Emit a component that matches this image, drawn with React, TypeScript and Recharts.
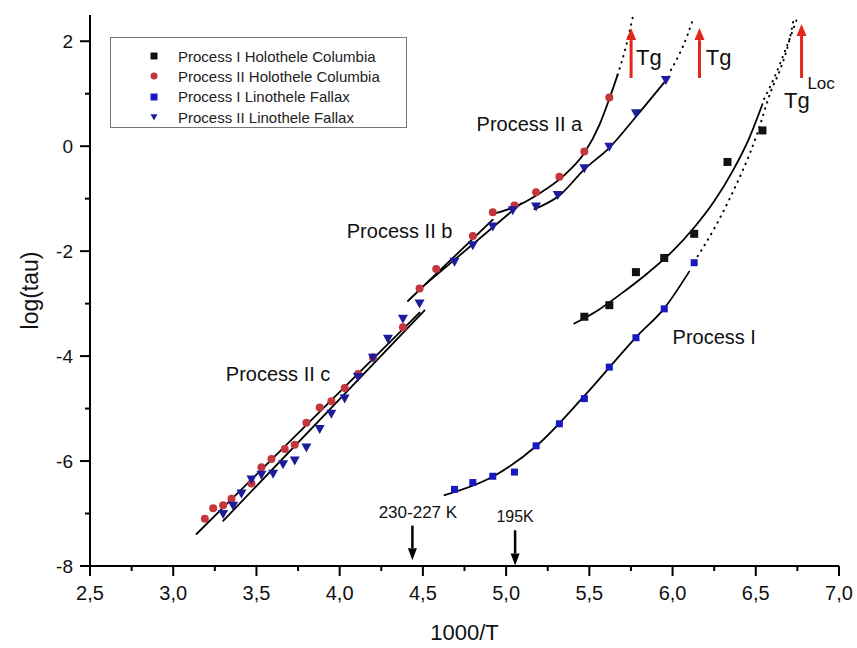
import React from 'react';
import {
    ComposedChart,
    Line,
    Scatter,
    XAxis,
    YAxis,
    ReferenceLine,
    ReferenceDot,
    Legend
} from 'recharts';

// axis ticks
const xTicks = [2.5, 2.75, 3, 3.25, 3.5, 3.75, 4, 4.25, 4.5, 4.75, 5, 5.25, 5.5, 5.75, 6, 6.25, 6.5, 6.75, 7];
const xMajorTicks = [2.5, 3, 3.5, 4, 4.5, 5, 5.5, 6, 6.5, 7];
const yTicks = [-8, -7, -6, -5, -4, -3, -2, -1, 0, 1, 2];
const yMajorTicks = [-8, -6, -4, -2, 0, 2];

// measured points [1000/T, log(tau)]
const procIHolothele: [number, number][] = [
    [5.47, -3.25], [5.62, -3.03], [5.78, -2.40], [5.95, -2.13], [6.13, -1.67], [6.33, -0.30], [6.54, 0.30]
];
const procIIHolothele: [number, number][] = [
    [3.19, -7.10], [3.24, -6.90], [3.30, -6.84], [3.35, -6.72], [3.47, -6.43], [3.53, -6.12], [3.59, -5.96],
    [3.67, -5.77], [3.73, -5.69], [3.80, -5.27], [3.88, -4.98], [3.95, -4.86], [4.03, -4.61], [4.11, -4.34],
    [4.20, -4.02], [4.38, -3.45], [4.48, -2.71], [4.58, -2.34], [4.80, -1.71], [4.92, -1.26], [5.05, -1.13],
    [5.18, -0.88], [5.32, -0.58], [5.47, -0.10], [5.62, 0.93]
];
const procILinothele: [number, number][] = [
    [4.69, -6.54], [4.80, -6.41], [4.92, -6.29], [5.05, -6.21], [5.18, -5.71], [5.32, -5.29], [5.47, -4.81],
    [5.62, -4.21], [5.78, -3.65], [5.95, -3.10], [6.13, -2.22]
];
const procIILinothele: [number, number][] = [
    [3.30, -7.01], [3.36, -6.85], [3.41, -6.62], [3.47, -6.35], [3.53, -6.26], [3.60, -6.24], [3.66, -6.06],
    [3.73, -5.99], [3.80, -5.74], [3.88, -5.39], [3.95, -5.10], [4.03, -4.81], [4.11, -4.40], [4.20, -4.03],
    [4.29, -3.67], [4.38, -3.29], [4.48, -3.00], [4.69, -2.20], [4.80, -1.89], [4.92, -1.53], [5.04, -1.22],
    [5.18, -1.15], [5.31, -0.93], [5.47, -0.42], [5.62, -0.01], [5.78, 0.63], [5.96, 1.26]
];

// fitted curves
const fitIIcRed: [number, number][] = [[3.14, -7.39], [4.48, -3.17]];
const fitIIcBlue: [number, number][] = [[3.30, -7.14], [4.51, -3.13]];
const fitIIbRed: [number, number][] = [[4.41, -2.95], [4.92, -1.40]];
const fitIIbBlue: [number, number][] = [[4.52, -2.62], [5.09, -1.09]];
const fitIIaRed: [number, number][] = [
    [4.91, -1.30], [5.05, -1.16], [5.20, -0.90], [5.35, -0.55], [5.47, -0.13], [5.56, 0.40], [5.62, 0.90], [5.67, 1.36]
];
const fitIIaBlue: [number, number][] = [
    [5.17, -1.20], [5.32, -0.94], [5.47, -0.44], [5.62, -0.03], [5.79, 0.60], [5.98, 1.33]
];
const fitIBlack: [number, number][] = [
    [5.41, -3.38], [5.55, -3.13], [5.70, -2.79], [5.85, -2.42], [6.00, -2.00], [6.13, -1.55], [6.25, -1.05],
    [6.36, -0.48], [6.46, 0.15], [6.54, 0.80]
];
const fitIBlue: [number, number][] = [
    [4.63, -6.65], [4.93, -6.28], [5.19, -5.69], [5.47, -4.76], [5.79, -3.61], [5.95, -3.09], [6.10, -2.39]
];
// dotted extrapolations towards Tg
const dotIIaRed: [number, number][] = [[5.67, 1.36], [5.72, 1.90], [5.76, 2.45]];
const dotIIaBlue: [number, number][] = [[5.99, 1.45], [6.04, 1.75], [6.09, 2.12], [6.12, 2.40]];
const dotIBlack: [number, number][] = [[6.55, 0.90], [6.61, 1.30], [6.68, 1.85], [6.75, 2.45]];
const dotIBlue: [number, number][] = [
    [6.13, -2.20], [6.18, -1.95], [6.34, -1.02], [6.51, 0.25], [6.59, 1.04], [6.65, 1.49], [6.70, 2.00], [6.73, 2.45]
];

const seriesNames = [
    'Process I Holothele Columbia',
    'Process II Holothele Columbia',
    'Process I Linothele Fallax',
    'Process II Linothele Fallax'
];
const seriesColors = ['#111111', '#c4363c', '#1818c0', '#1c1c9c'];
const seriesShapes = ['square', 'circle', 'square', 'triangle'];

// text annotations
const annotations = [
    { text: 'Process II a', x: 5.14, y: 0.29, anchor: 'middle', size: 20 },
    { text: 'Process II b', x: 4.36, y: -1.75, anchor: 'middle', size: 20 },
    { text: 'Process II c', x: 3.63, y: -4.48, anchor: 'middle', size: 20 },
    { text: 'Process I', x: 6.0, y: -3.77, anchor: 'start', size: 20 },
    { text: 'Tg', x: 5.78, y: 1.55, anchor: 'start', size: 22 },
    { text: 'Tg', x: 6.2, y: 1.55, anchor: 'start', size: 22 },
    { text: 'Tg', x: 6.67, y: 0.72, anchor: 'start', size: 22 },
    { text: 'Loc', x: 6.81, y: 1.09, anchor: 'start', size: 17 },
    { text: '230-227 K', x: 4.47, y: -7.09, anchor: 'middle', size: 17 },
    { text: '195K', x: 5.054, y: -7.17, anchor: 'middle', size: 16 }
];

// arrows [x, yFrom, yTo] with tip at yTo
const tgArrows: [number, number, number][] = [[5.751, 1.30, 2.25], [6.162, 1.30, 2.25], [6.775, 1.30, 2.33]];
const tempArrows: [number, number, number][] = [[4.437, -7.23, -7.89], [5.054, -7.32, -7.99]];

const toPts = (arr: [number, number][]) => arr.map(([x, y]) => ({ x, y }));

const FONT = '"Liberation Sans", Arial, sans-serif';
const fmtX = (v: number) => v.toFixed(1).replace('.', ',');

const BottomTick = (props: any) => {
    const { x, y, payload } = props;
    const major = xMajorTicks.includes(payload.value);
    return (
        <g>
            <line x1={x} y1={y} x2={x} y2={y + (major ? 10 : 5)} stroke="#000" strokeWidth={2} />
            {major && (
                <text x={x} y={y + 34} textAnchor="middle" fontSize={20} fontFamily={FONT} fill="#111">
                    {fmtX(payload.value)}
                </text>
            )}
        </g>
    );
};

const TopTick = (props: any) => {
    const { x, y, payload } = props;
    const major = xMajorTicks.includes(payload.value);
    return <line x1={x} y1={y} x2={x} y2={y + (major ? 10 : 5)} stroke="#000" strokeWidth={2} />;
};

const LeftTick = (props: any) => {
    const { x, y, payload } = props;
    const major = yMajorTicks.includes(payload.value);
    return (
        <g>
            <line x1={x - (major ? 10 : 5)} y1={y} x2={x} y2={y} stroke="#000" strokeWidth={2} />
            {major && (
                <text x={x - 17} y={y} dy="0.35em" textAnchor="end" fontSize={19} fontFamily={FONT} fill="#111">
                    {String(payload.value)}
                </text>
            )}
        </g>
    );
};

const RightTick = (props: any) => {
    const { x, y, payload } = props;
    const major = yMajorTicks.includes(payload.value);
    return <line x1={x - (major ? 10 : 5)} y1={y} x2={x} y2={y} stroke="#000" strokeWidth={2} />;
};

const Marker = ({ kind, color, cx, cy, s }: { kind: string; color: string; cx: number; cy: number; s: number }) => {
    if (kind === 'circle') return <circle cx={cx} cy={cy} r={s / 2} fill={color} />;
    if (kind === 'triangle')
        return (
            <polygon
                points={`${cx - s / 2},${cy - s * 0.4} ${cx + s / 2},${cy - s * 0.4} ${cx},${cy + s * 0.5}`}
                fill={color}
            />
        );
    return <rect x={cx - s / 2} y={cy - s / 2} width={s} height={s} fill={color} />;
};

const shapeFor = (i: number, s: number) => (p: any) => (
    <Marker kind={seriesShapes[i]} color={seriesColors[i]} cx={p.cx} cy={p.cy} s={s} />
);

const arrowShape = (color: string, w: number, headLen: number, headW: number) => (p: any) => {
    const { x1, y1, x2, y2 } = p;
    const dir = y2 < y1 ? -1 : 1;
    const base = y2 - dir * headLen;
    return (
        <g>
            <line x1={x1} y1={y1} x2={x2} y2={base} stroke={color} strokeWidth={w} />
            <polygon points={`${x2},${y2} ${x2 - headW / 2},${base} ${x2 + headW / 2},${base}`} fill={color} />
        </g>
    );
};

const renderLegend = () => (
    <div
        style={{
            width: 297,
            height: 91,
            boxSizing: 'border-box',
            border: '1px solid #777',
            background: '#fff',
            paddingTop: 8,
            fontFamily: FONT,
            fontSize: 15,
            color: '#222'
        }}
    >
        {seriesNames.map((name, i) => (
            <div key={name} style={{ display: 'flex', alignItems: 'center', height: 20.3 }}>
                <svg width={14} height={14} style={{ marginLeft: 36, marginRight: 17 }}>
                    <Marker kind={seriesShapes[i]} color={seriesColors[i]} cx={7} cy={7} s={7} />
                </svg>
                <span style={{ whiteSpace: 'nowrap' }}>{name}</span>
            </div>
        ))}
    </div>
);

const fitLine = (pts: [number, number][], key: string, dotted = false) => (
    <Line
        key={key}
        data={toPts(pts)}
        dataKey="y"
        type="monotone"
        stroke="#000"
        strokeWidth={dotted ? 2 : 1.8}
        strokeDasharray={dotted ? '0.5 6' : undefined}
        strokeLinecap="round"
        dot={false}
        activeDot={false}
        legendType="none"
        isAnimationActive={false}
    />
);

export default function App() {
    return (
        <div style={{ position: 'absolute', left: 0, top: 0, background: '#fff' }}>
            <ComposedChart width={857} height={648} margin={{ top: 15, right: 18, bottom: 0, left: 0 }}>
                <XAxis
                    dataKey="x"
                    type="number"
                    domain={[2.5, 7]}
                    allowDataOverflow
                    ticks={xTicks}
                    interval={0}
                    height={82}
                    tickSize={0}
                    tickMargin={0}
                    tickLine={false}
                    tick={<BottomTick />}
                    axisLine={{ stroke: '#000', strokeWidth: 2 }}
                />
                <XAxis
                    xAxisId="top"
                    orientation="top"
                    dataKey="x"
                    type="number"
                    domain={[2.5, 7]}
                    allowDataOverflow
                    ticks={xTicks}
                    interval={0}
                    height={0}
                    tickSize={0}
                    tickMargin={0}
                    tickLine={false}
                    tick={<TopTick />}
                    axisLine={{ stroke: '#000', strokeWidth: 2 }}
                />
                <YAxis
                    dataKey="y"
                    type="number"
                    domain={[-8, 2.5]}
                    allowDataOverflow
                    ticks={yTicks}
                    interval={0}
                    width={90}
                    tickSize={0}
                    tickMargin={0}
                    tickLine={false}
                    tick={<LeftTick />}
                    axisLine={{ stroke: '#000', strokeWidth: 2 }}
                    label={{
                        value: 'log(tau)',
                        angle: -90,
                        position: 'insideLeft',
                        offset: 30,
                        style: { fontSize: 23, fontFamily: FONT, fill: '#111', textAnchor: 'middle' }
                    }}
                />
                <YAxis
                    yAxisId="right"
                    orientation="right"
                    dataKey="y"
                    type="number"
                    domain={[-8, 2.5]}
                    allowDataOverflow
                    ticks={yTicks}
                    interval={0}
                    width={0}
                    tickSize={0}
                    tickMargin={0}
                    tickLine={false}
                    tick={<RightTick />}
                    axisLine={{ stroke: '#000', strokeWidth: 2 }}
                />

                {fitLine(fitIIcRed, 'IIcR')}
                {fitLine(fitIIcBlue, 'IIcB')}
                {fitLine(fitIIbRed, 'IIbR')}
                {fitLine(fitIIbBlue, 'IIbB')}
                {fitLine(fitIIaRed, 'IIaR')}
                {fitLine(fitIIaBlue, 'IIaB')}
                {fitLine(fitIBlack, 'IK')}
                {fitLine(fitIBlue, 'IB')}
                {fitLine(dotIIaRed, 'dIIaR', true)}
                {fitLine(dotIIaBlue, 'dIIaB', true)}
                {fitLine(dotIBlack, 'dIK', true)}
                {fitLine(dotIBlue, 'dIB', true)}

                <Scatter name={seriesNames[0]} data={toPts(procIHolothele)} shape={shapeFor(0, 8)} isAnimationActive={false} />
                <Scatter name={seriesNames[1]} data={toPts(procIIHolothele)} shape={shapeFor(1, 8)} isAnimationActive={false} />
                <Scatter name={seriesNames[2]} data={toPts(procILinothele)} shape={shapeFor(2, 7)} isAnimationActive={false} />
                <Scatter name={seriesNames[3]} data={toPts(procIILinothele)} shape={shapeFor(3, 10)} isAnimationActive={false} />

                {tgArrows.map(([x, y0, y1], i) => (
                    <ReferenceLine
                        key={`tg${i}`}
                        segment={[{ x, y: y0 }, { x, y: y1 }]}
                        shape={arrowShape('#e3261c', 3, 12, 10)}
                    />
                ))}
                {tempArrows.map(([x, y0, y1], i) => (
                    <ReferenceLine
                        key={`ta${i}`}
                        segment={[{ x, y: y0 }, { x, y: y1 }]}
                        shape={arrowShape('#000', 2.5, 12, 9)}
                    />
                ))}
                {annotations.map((a, i) => (
                    <ReferenceDot
                        key={`an${i}`}
                        x={a.x}
                        y={a.y}
                        r={0}
                        shape={(p: any) => (
                            <text
                                x={p.cx}
                                y={p.cy}
                                textAnchor={a.anchor as any}
                                fontSize={a.size}
                                fontFamily={FONT}
                                fill="#111"
                            >
                                {a.text}
                            </text>
                        )}
                    />
                ))}

                <Legend
                    layout="vertical"
                    align="center"
                    verticalAlign="middle"
                    content={renderLegend}
                    wrapperStyle={{ left: 110, top: 37, width: 297, height: 91 }}
                />
            </ComposedChart>
            <div
                style={{
                    position: 'absolute',
                    left: 0,
                    top: 620,
                    width: 929,
                    textAlign: 'center',
                    fontFamily: FONT,
                    fontSize: 22,
                    color: '#111'
                }}
            >
                1000/T
            </div>
        </div>
    );
}
